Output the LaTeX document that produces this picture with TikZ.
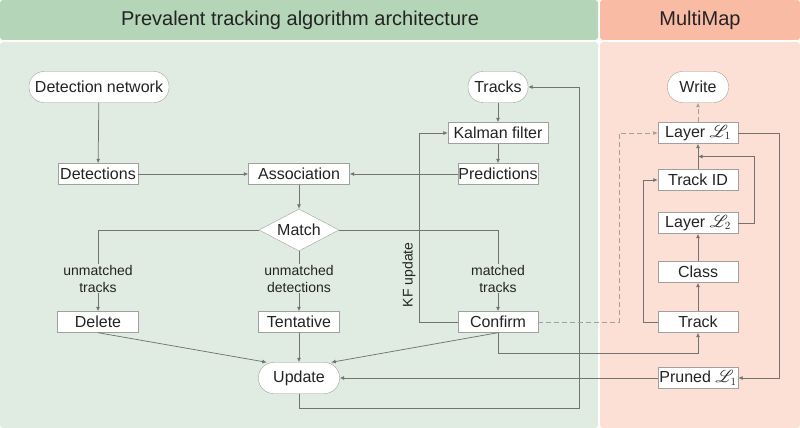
\documentclass[tikz,border=0pt]{standalone}
\usepackage{fontspec}
\setmainfont{Liberation Sans}
\usepackage{mathrsfs}
\usetikzlibrary{arrows.meta,shapes.geometric,calc}
\definecolor{hdgreen}{RGB}{181,213,184}
\definecolor{bdgreen}{RGB}{224,236,225}
\definecolor{hdorange}{RGB}{249,187,164}
\definecolor{bdorange}{RGB}{252,224,213}
\definecolor{linegray}{RGB}{115,115,115}
\definecolor{boxline}{RGB}{160,160,160}
\definecolor{dashgray}{RGB}{160,160,160}
\definecolor{txt}{RGB}{35,35,35}
\tikzset{
    box/.style={draw=boxline, fill=white, text=txt, inner sep=0pt, minimum height=21pt, font=\fontsize{16}{19}\selectfont},
    term/.style={box, rounded corners=15pt, minimum height=31pt},
    decision/.style={box, diamond, shape aspect=1.9, minimum width=80pt, minimum height=42pt},
    lbl/.style={fill=bdgreen, text=txt, align=center, inner sep=1pt, font=\fontsize{14}{17}\selectfont},
    link/.style={draw=linegray, line width=0.75pt, -{Latex[length=4.5pt,width=4pt]}},
    feed/.style={link, draw=dashgray, dash pattern=on 5pt off 3pt},
    header/.style={text=txt, font=\fontsize{20}{24}\selectfont}
}
\begin{document}
\begin{tikzpicture}[x=1pt,y=-1pt]
                \useasboundingbox (0,0) rectangle (800,428);
                \fill[hdgreen, rounded corners=3pt] (0,0) rectangle (598,40);
                \fill[bdgreen, rounded corners=3pt] (0,42) rectangle (598,428);
                \fill[hdorange, rounded corners=3pt] (600,0) rectangle (800,40);
                \fill[bdorange, rounded corners=3pt] (600,42) rectangle (800,428);
                \node[header] (title) at (300,20) {Prevalent tracking algorithm architecture};
                \node[header] (mmtitle) at (700,20) {MultiMap};

                \node[term, minimum width=140pt] (detnet) at (99,87) {Detection network};
                \node[box, minimum width=80pt] (dets) at (98,174) {Detections};
                \node[box, minimum width=101pt] (assoc) at (299,174) {Association};
                \node[decision] (match) at (299,230) {Match};
                \node[term, minimum width=60pt] (tracks) at (498,87) {Tracks};
                \node[box, minimum width=100pt] (kalman) at (498,133) {Kalman filter};
                \node[box, minimum width=80pt] (preds) at (498,174) {Predictions};
                \node[box, minimum width=81pt] (delete) at (98,322) {Delete};
                \node[box, minimum width=81pt] (tent) at (299,322) {Tentative};
                \node[box, minimum width=80pt] (confirm) at (498,322) {Confirm};
                \node[term, minimum width=81pt] (update) at (299,378) {Update};

                \node[term, minimum width=61pt] (write) at (698,87) {Write};
                \node[box, minimum width=80pt] (lay1) at (698,133) {Layer $\mathscr{L}_1$};
                \node[box, minimum width=80pt] (trackid) at (698,180) {Track ID};
                \node[box, minimum width=80pt] (lay2) at (698,223) {Layer $\mathscr{L}_2$};
                \node[box, minimum width=80pt] (class) at (698,272) {Class};
                \node[box, minimum width=80pt] (track) at (698,322) {Track};
                \node[box, minimum width=80pt] (pruned) at (698,378) {Pruned $\mathscr{L}_1$};

                \draw[link] (detnet) -- (dets);
                \draw[link] (dets) -- (assoc);
                \draw[link] (preds) -- (assoc);
                \draw[link] (tracks) -- (kalman);
                \draw[link] (kalman) -- (preds);
                \draw[link] (assoc) -- (match);
                \draw[link] (match.west) -| node[lbl, pos=0.8] {unmatched\\tracks} (delete);
                \draw[link] (match) -- node[lbl, pos=0.46] {unmatched\\detections} (tent);
                \draw[link] (match.east) -| node[lbl, pos=0.8] {matched\\tracks} (confirm);
                \draw[link] (delete.south) -- (update.154);
                \draw[link] (tent) -- (update);
                \draw[link] (confirm.south) -- (update.26);
                \draw[link] (confirm.west) -- ++(-38,0) |- node[pos=0.125, rotate=90, anchor=south, inner sep=4pt, text=txt, font=\fontsize{14}{17}\selectfont] {KF update} (kalman.west);
                \coordinate (loop) at (579,408);
                \draw[link] (update.south) |- (loop) |- (tracks.east);
                \draw[link] (confirm.south) -- ++(0,21) -| (track.south);
                \draw[feed] (confirm.east) -- ++(81,0) |- (lay1.west);

                \draw[link] (track) -- (class);
                \draw[link] (class) -- (lay2);
                \draw[link] (trackid) -- (lay1);
                \draw[link] (track.west) -- ++(-14,0) |- (trackid.west);
                \coordinate (join) at ($(trackid.north)!0.5!(lay1.south)$);
                \draw[link] (lay2.east) -- ++(16,0) |- (join);
                \draw[feed] (lay1) -- (write);
                \draw[link] (lay1.east) -- ++(41,0) |- (pruned.east);
                \draw[link] (pruned) -- (update);
            \end{tikzpicture}
\end{document}
